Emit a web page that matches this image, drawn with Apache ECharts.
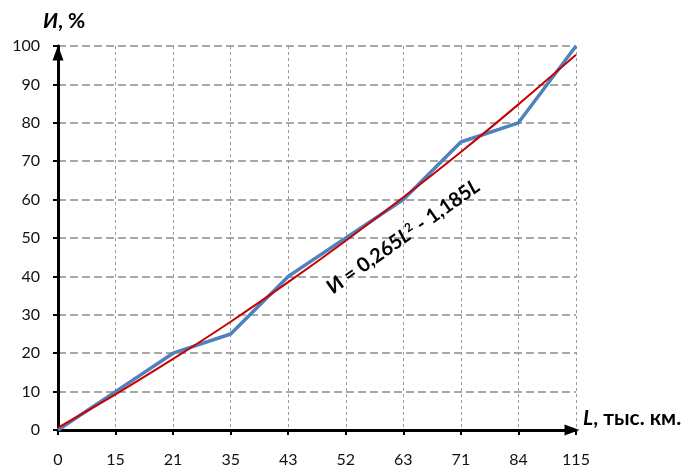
<!DOCTYPE html>
<html>
<head>
<meta charset="utf-8">
<script src="https://cdn.jsdelivr.net/npm/echarts@6/dist/echarts.min.js"></script>
<style>html,body{margin:0;padding:0;background:#fff;}#c{width:686px;height:470px;}</style>
</head>
<body>
<div id="c"></div>
<script>
const categories = ['0', '15', '21', '35', '43', '52', '63', '71', '84', '115'];
const actualValues = [0, 10, 20, 25, 40, 50, 60, 75, 80, 100];
const trendValues = [0.6, 9.3, 18.5, 28.2, 38.5, 49.3, 60.6, 72.4, 84.8, 97.7];
const yTicks = { min: 0, max: 100, interval: 10 };

const FONT = 'Lato, "Noto Sans", sans-serif';
const chart = echarts.init(document.getElementById('c'), null, { renderer: 'canvas' });

const option = {
  animation: false,
  backgroundColor: '#fff',
  grid: { left: 58, right: 110, top: 46, bottom: 40, containLabel: false },
  xAxis: {
    type: 'category',
    data: categories,
    boundaryGap: false,
    name: '{i|L}{b|, тыс. км.}',
    nameLocation: 'end',
    nameGap: 7,
    nameTextStyle: {
      align: 'left', verticalAlign: 'middle', padding: [0, 0, 24, 0],
      rich: {
        i: { fontFamily: FONT, fontSize: 21, fontWeight: 'bold', fontStyle: 'italic', color: '#000' },
        b: { fontFamily: FONT, fontSize: 21, fontWeight: 'bold', color: '#000' }
      }
    },
    axisLine: { show: true, lineStyle: { color: '#000', width: 3 }, symbol: ['none', 'triangle'], symbolSize: [11, 15], symbolOffset: [0, -4] },
    axisTick: { show: true, length: 5, lineStyle: { color: '#000', width: 2 } },
    axisLabel: { color: '#111', fontFamily: FONT, fontSize: 16, margin: 22 },
    splitLine: { show: true, lineStyle: { color: '#9a9a9a', width: 1, type: [3, 3] } }
  },
  yAxis: {
    type: 'value',
    min: yTicks.min, max: yTicks.max, interval: yTicks.interval,
    name: '{i|И}{b|, %}',
    nameLocation: 'end',
    nameGap: 14,
    nameTextStyle: {
      align: 'left', padding: [0, 0, 0, -15],
      rich: {
        i: { fontFamily: FONT, fontSize: 21, fontWeight: 'bold', fontStyle: 'italic', color: '#000' },
        b: { fontFamily: FONT, fontSize: 21, fontWeight: 'bold', color: '#000' }
      }
    },
    axisLine: { show: true, lineStyle: { color: '#000', width: 3 }, symbol: ['none', 'triangle'], symbolSize: [11, 15], symbolOffset: [0, -7] },
    axisTick: { show: true, length: 5, lineStyle: { color: '#000', width: 2 } },
    axisLabel: { color: '#111', fontFamily: FONT, fontSize: 16, margin: 18 },
    splitLine: { show: true, lineStyle: { color: '#8c8c8c', width: 1.5, type: [8, 4] } }
  },
  series: [
    {
      name: 'Фактические', type: 'line', data: actualValues, symbol: 'none',
      lineStyle: { color: '#4F81BD', width: 3.5 }, z: 3
    },
    {
      name: 'Тренд', type: 'line', data: trendValues, symbol: 'none', smooth: 0.3,
      lineStyle: { color: '#C80000', width: 2 }, z: 4
    }
  ]
};
chart.setOption(option);

const p = chart.convertToPixel({ gridIndex: 0 }, [6.15, 50.3]);
chart.setOption({
  graphic: [{
    type: 'text',
    x: p[0], y: p[1],
    rotation: 35.3 * Math.PI / 180,
    style: {
      text: '{a|И = 0,265}{i|L}{s|2}{a| - 1,185}{i|L}',
      align: 'center', verticalAlign: 'middle',
      rich: {
        a: { fontFamily: FONT, fontSize: 20, fontWeight: 'bold', fill: '#000' },
        i: { fontFamily: FONT, fontSize: 20, fontWeight: 'bold', fontStyle: 'italic', fill: '#000' },
        s: { fontFamily: FONT, fontSize: 12, fontWeight: 'bold', fill: '#000', verticalAlign: 'top', padding: [0, 0, 9, 0] }
      }
    },
    z: 10
  }]
});
</script>
</body>
</html>
